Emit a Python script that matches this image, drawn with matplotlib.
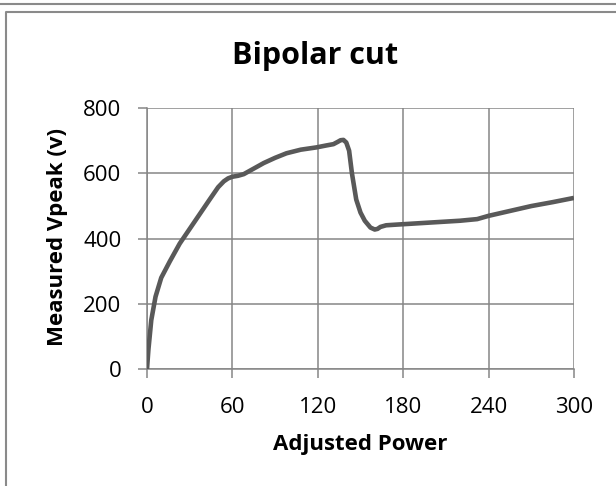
import numpy as np
import matplotlib
matplotlib.use("Agg")
import matplotlib.pyplot as plt
from matplotlib.lines import Line2D

# measured peak voltage vs adjusted generator power, bipolar cut mode
power = [0, 1, 3, 6, 10, 16, 23, 30, 37, 44, 50, 54, 57, 60, 64, 68, 75, 82,
         90, 98, 108, 119, 126, 131, 134, 136, 138, 140, 142, 144, 147, 150,
         153, 157, 160, 162, 164, 168, 175, 190, 205, 220, 232, 240, 255, 270,
         285, 300]
vpeak = [0, 60, 150, 222, 280, 330, 385, 430, 475, 520, 558, 576, 585, 590,
         593, 598, 615, 632, 648, 662, 673, 680, 686, 690, 697, 702, 703, 695,
         670, 600, 520, 480, 455, 434, 428, 430, 436, 441, 443, 447, 451, 455,
         460, 470, 485, 500, 512, 525]

xticks = [0, 60, 120, 180, 240, 300]
yticks = [0, 200, 400, 600, 800]

plt.rcParams['font.family'] = ['Open Sans', 'DejaVu Sans']

W, H = 616, 486
fig = plt.figure(figsize=(W / 100, H / 100), dpi=100)
ax = fig.add_axes([147/W, 1 - 369/H, 427/W, (369 - 108.3)/H])

grid_col = "#868686"
ax.plot(power, vpeak, color="#595959", linewidth=3.3, solid_joinstyle="round",
        solid_capstyle="butt", zorder=3)

ax.set_xlim(0, 300)
ax.set_ylim(0, 800)
ax.set_xticks(xticks)
ax.set_yticks(yticks)
ax.grid(True, color=grid_col, linewidth=1.1)
ax.set_axisbelow(True)
for side in ["top", "right"]:
    ax.spines[side].set_visible(False)
for side in ["left", "bottom"]:
    ax.spines[side].set_color(grid_col)
    ax.spines[side].set_linewidth(1.1)
ax.tick_params(direction="out", length=6.5, width=1.1, color=grid_col,
               labelsize=16, pad=12)
ax.tick_params(axis="x", pad=14)

ax.set_xlabel("Adjusted Power", fontsize=16, fontweight="bold")
ax.xaxis.set_label_coords(0.5, (369 - 444) / 260.7)
ax.xaxis.label.set_va("center")
ax.set_ylabel("Measured Vpeak (v)", fontsize=16, fontweight="bold")
ax.yaxis.set_label_coords((57.5 - 147) / 427, (369 - 237) / 260.7)
ax.yaxis.label.set_va("center")
fig.text(315/W, 1 - 56/H, "Bipolar cut", fontsize=22, fontweight="bold",
         ha="center", va="center")

# chart frame and the edge of the box above it
fig.add_artist(Line2D([0, 1], [1 - 4/H, 1 - 4/H], transform=fig.transFigure,
                      color="#8a8a8a", linewidth=1.5))
fig.add_artist(Line2D([6/W, 6/W, 1], [0, 1 - 12/H, 1 - 12/H],
                      transform=fig.transFigure, color="#8a8a8a", linewidth=1.5))

fig.savefig("out.png", dpi=100)
